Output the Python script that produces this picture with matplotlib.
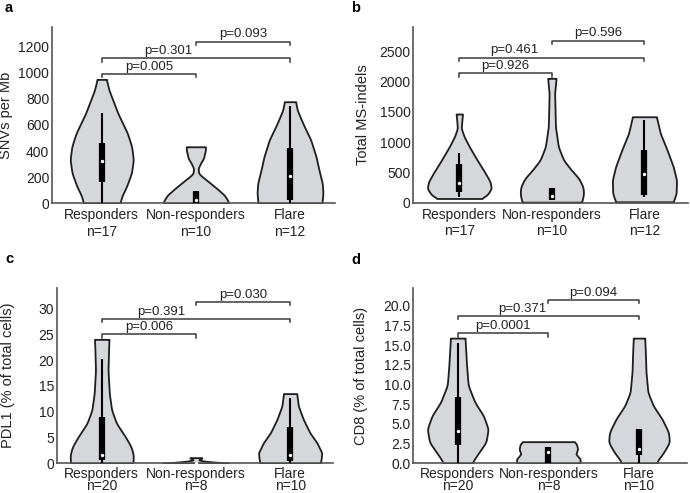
import numpy as np
import matplotlib
matplotlib.use("Agg")
import matplotlib.pyplot as plt

plt.rcParams['font.family'] = ['Liberation Sans', 'DejaVu Sans']

groups = ["Responders", "Non-responders", "Flare"]

# ---- panel a : SNVs per Mb ----
snv_n = [17, 10, 12]
snv_resp_y = [0, 60, 127, 230, 332, 433, 536, 689, 867, 949]
snv_resp_w = [0.55, 0.62, 0.75, 0.90, 0.96, 0.91, 0.78, 0.49, 0.22, 0.14]
snv_nonr_y = [0, 25, 64, 115, 191, 204, 230, 268, 306, 344, 408, 433]
snv_nonr_w = [1.0, 0.96, 0.86, 0.63, 0.26, 0.19, 0.085, 0.07, 0.14, 0.23, 0.29, 0.29]
snv_flare_y = [0, 77, 153, 255, 357, 485, 612, 714, 778]
snv_flare_w = [0.97, 1.0, 0.98, 0.88, 0.79, 0.63, 0.39, 0.22, 0.17]
# lo whisker, q1, median, q3, hi whisker
snv_box = [(0, 166, 326, 459, 689), (0, 0, 25, 96, 96), (0, 25, 211, 421, 745)]
snv_p = ["p=0.005", "p=0.301", "p=0.093"]
snv_brk = [990, 1110, 1238]
snv_ticks = [0, 200, 400, 600, 800, 1000, 1200]

# ---- panel b : total MS-indels ----
ind_n = [17, 10, 12]
ind_resp_y = [70, 127, 238, 347, 490, 705, 924, 1089, 1228, 1365, 1464]
ind_resp_w = [0.67, 0.86, 0.99, 0.95, 0.80, 0.55, 0.31, 0.15, 0.06, 0.08, 0.10]
ind_nonr_y = [10, 45, 155, 264, 403, 540, 705, 924, 1254, 1805, 2053]
ind_nonr_w = [0.91, 0.94, 0.98, 0.96, 0.83, 0.60, 0.36, 0.20, 0.11, 0.085, 0.13]
ind_flare_y = [15, 45, 155, 375, 594, 870, 1145, 1419]
ind_flare_w = [0.88, 0.91, 0.98, 0.99, 0.89, 0.70, 0.49, 0.37]
ind_box = [(99, 182, 330, 639, 825), (45, 45, 110, 237, 237), (99, 127, 474, 870, 1365)]
ind_p = ["p=0.926", "p=0.461", "p=0.596"]
ind_brk = [2135, 2393, 2673]
ind_ticks = [0, 500, 1000, 1500, 2000, 2500]

# ---- panel c : PDL1 ----
pdl_n = [20, 8, 10]
pdl_resp_y = [0, 0.3, 1.6, 3.2, 5.1, 7.7, 10.3, 13.5, 18.0, 22.6, 24.0]
pdl_resp_w = [0.94, 0.95, 0.96, 0.89, 0.72, 0.45, 0.30, 0.23, 0.19, 0.21, 0.22]
pdl_nonr_y = [0, 0.1, 0.25, 0.45, 0.65, 0.8, 1.0, 1.1]
pdl_nonr_w = [1.0, 0.9, 0.55, 0.24, 0.09, 0.10, 0.18, 0.18]
pdl_flare_y = [0, 0.77, 2.05, 4.0, 5.9, 8.5, 11.1, 13.5]
pdl_flare_w = [0.91, 0.94, 0.96, 0.81, 0.60, 0.40, 0.25, 0.20]
pdl_box = [(0, 0.6, 1.6, 9.0, 20.2), (0, 0, 0.05, 0.15, 0.3), (0, 0.5, 1.7, 7.0, 12.7)]
pdl_p = ["p=0.006", "p=0.391", "p=0.030"]
pdl_brk = [24.95, 27.97, 31.26]
pdl_ticks = [0, 5, 10, 15, 20, 25, 30]

# ---- panel d : CD8 ----
cd8_n = [20, 8, 10]
cd8_resp_y = [0, 0.33, 1.4, 2.67, 4.36, 6.05, 7.75, 9.9, 12.4, 14.5, 15.9]
cd8_resp_w = [0.45, 0.49, 0.67, 0.89, 0.96, 0.81, 0.54, 0.33, 0.28, 0.25, 0.23]
cd8_nonr_y = [0, 0.55, 1.18, 1.82, 2.4, 2.75]
cd8_nonr_w = [1.0, 1.0, 0.87, 0.92, 0.89, 0.82]
cd8_flare_y = [0, 0.33, 1.4, 2.67, 3.94, 5.6, 7.3, 9.0, 11.6, 14.1, 15.9]
cd8_flare_w = [0.55, 0.58, 0.78, 0.96, 0.93, 0.73, 0.45, 0.28, 0.22, 0.20, 0.18]
cd8_box = [(0, 2.3, 4.07, 8.4, 15.3), (0, 0, 1.4, 2.03, 2.1), (0, 1.05, 1.82, 4.36, 4.4)]
cd8_p = ["p=0.0001", "p=0.371", "p=0.094"]
cd8_brk = [16.5, 18.7, 20.75]
cd8_ticks = [0.0, 2.5, 5.0, 7.5, 10.0, 12.5, 15.0, 17.5, 20.0]

FILL = '#d5d7da'
EDGE = '#1e1e1e'
SPINE = '#555555'
HALF = 0.35


def smooth_outline(y, w, npts=300):
    # dense outline, lightly smoothed so corners look like a kde curve
    yy = np.linspace(y[0], y[-1], npts)
    ww = np.interp(yy, y, w)
    k = np.exp(-0.5 * (np.arange(-12, 13) / 5.0) ** 2)
    k /= k.sum()
    pad = np.concatenate([np.full(12, ww[0]), ww, np.full(12, ww[-1])])
    ww = np.convolve(pad, k, mode='valid')
    return yy, ww


def draw_violin(ax, pos, y, w, box):
    yy, ww = smooth_outline(y, w)
    ax.fill_betweenx(yy, pos - ww * HALF, pos + ww * HALF, facecolor=FILL,
                     edgecolor=EDGE, linewidth=1.3, zorder=2)
    lo, q1, med, q3, hi = box
    ax.vlines(pos, lo, hi, color='black', linewidth=1.5, zorder=3)
    ax.vlines(pos, q1, q3, color='black', linewidth=4.5, zorder=3)
    ax.scatter([pos], [med], s=6, color='white', zorder=4, linewidths=0)


def bracket(ax, x1, x2, y, drop, label, tx):
    ax.plot([x1, x1, x2, x2], [y - drop, y, y, y - drop], color='#3a3a3a',
            linewidth=1.1, zorder=1, clip_on=False)
    ax.text(tx, y + drop * 0.4, label, ha='center', va='bottom', fontsize=9.5,
            color='#222222')


def panel(ax, violins, boxes, ns, ticks, ylim, xlim, ylabel, pvals, brks, tx_mid,
          fmt, ylab_x, lsp, xpad):
    for i, (y, w) in enumerate(violins):
        draw_violin(ax, i, y, w, boxes[i])
    drop = ylim * 0.019
    bracket(ax, 0, 1, brks[0], drop, pvals[0], 0.5)
    bracket(ax, 0, 2, brks[1], drop, pvals[1], tx_mid)
    bracket(ax, 1, 2, brks[2], drop, pvals[2], 1.5)
    ax.set_ylim(0, ylim)
    ax.set_xlim(*xlim)
    ax.set_yticks(ticks)
    ax.set_yticklabels([fmt.format(t) for t in ticks])
    ax.set_xticks(range(3))
    ax.set_xticklabels([f"{g}\nn={n}" for g, n in zip(groups, ns)], linespacing=lsp,
                       va='top')
    ax.tick_params(length=0, labelsize=10, pad=2, colors='#222222')
    ax.tick_params(axis='x', labelsize=10, pad=xpad)
    ax.set_ylabel(ylabel, fontsize=10.5, color='#222222')
    ax.yaxis.set_label_coords(ylab_x, 0.5)
    for s in ['top', 'right']:
        ax.spines[s].set_visible(False)
    for s in ['left', 'bottom']:
        ax.spines[s].set_color(SPINE)
        ax.spines[s].set_linewidth(1.2)


fig = plt.figure(figsize=(6.9, 4.93), dpi=100)
ax_a = fig.add_axes([0.0754, 0.5876, 0.4101, 0.3576])
ax_b = fig.add_axes([0.599, 0.5888, 0.398, 0.357])
ax_c = fig.add_axes([0.0822, 0.0602, 0.4004, 0.3562])
ax_d = fig.add_axes([0.599, 0.0602, 0.3962, 0.3562])

panel(ax_a, [(snv_resp_y, snv_resp_w), (snv_nonr_y, snv_nonr_w), (snv_flare_y, snv_flare_w)],
      snv_box, snv_n, snv_ticks, 1350, (-0.528, 2.478), "SNVs per Mb",
      snv_p, snv_brk, 0.71, "{:d}", -0.139, 1.25, 3.5)
panel(ax_b, [(ind_resp_y, ind_resp_w), (ind_nonr_y, ind_nonr_w), (ind_flare_y, ind_flare_w)],
      ind_box, ind_n, ind_ticks, 2905, (-0.497, 2.47), "Total MS-indels",
      ind_p, ind_brk, 0.59, "{:d}", -0.158, 1.25, 3.5)
panel(ax_c, [(pdl_resp_y, pdl_resp_w), (pdl_nonr_y, pdl_nonr_w), (pdl_flare_y, pdl_flare_w)],
      pdl_box, pdl_n, pdl_ticks, 34, (-0.478, 2.455), "PDL1 (% of total cells)",
      pdl_p, pdl_brk, 0.63, "{:d}", -0.151, 0.8, 2.5)
panel(ax_d, [(cd8_resp_y, cd8_resp_w), (cd8_nonr_y, cd8_nonr_w), (cd8_flare_y, cd8_flare_w)],
      cd8_box, cd8_n, cd8_ticks, 22.3, (-0.49, 2.526), "CD8 (% of total cells)",
      cd8_p, cd8_brk, 0.71, "{:.1f}", -0.165, 0.8, 2.5)

# panel letters
for lab, x, y in [('a', 5, 8), ('b', 351, 8), ('c', 5, 259), ('d', 351, 260)]:
    fig.text(x / 690, 1 - y / 493, lab, fontsize=10.5, fontweight='bold', va='center')

fig.savefig("out.png", dpi=100)
